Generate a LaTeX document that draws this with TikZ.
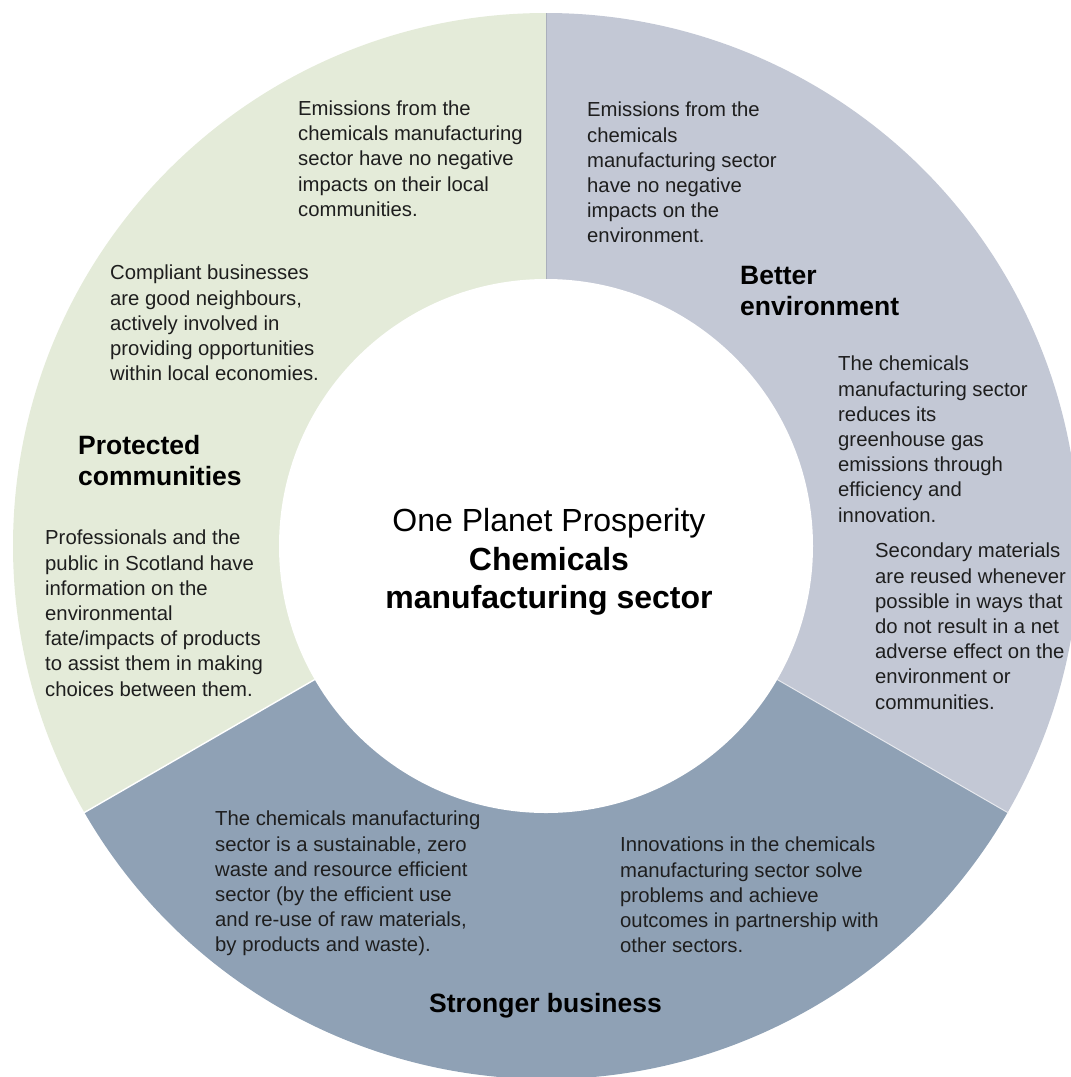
\documentclass[tikz,border=0pt]{standalone}
\usepackage{fontspec}
\setmainfont{Liberation Sans}
\definecolor{ringgreen}{RGB}{228,235,217}
\definecolor{ringgrey}{RGB}{195,200,213}
\definecolor{ringblue}{RGB}{143,161,181}
\definecolor{seamgrey}{RGB}{170,175,188}
\definecolor{txt}{RGB}{30,30,30}
\tikzset{
  body/.style={font=\fontsize{20.3}{25.2}\selectfont, align=left, anchor=north west, inner sep=0pt, text=txt},
  head/.style={font=\fontsize{26.5}{31}\selectfont\bfseries, align=left, anchor=north west, inner sep=0pt, text=black},
  seam/.style={line width=1.4pt, white}
}
\begin{document}
\begin{tikzpicture}[x=1pt,y=1pt]
\useasboundingbox (0,0) rectangle (1071,-1077);
\coordinate (O) at (546,-546);
\begin{scope}
  \clip (0,0) rectangle (1071,-1077);
  % three equal sectors of the ring
  \fill[ringgreen] (O) -- ([shift={(90:533)}]O) arc[start angle=90, end angle=210, radius=533] -- cycle;
  \fill[ringgrey]  (O) -- ([shift={(-30:533)}]O) arc[start angle=-30, end angle=90, radius=533] -- cycle;
  \fill[ringblue]  (O) -- ([shift={(210:533)}]O) arc[start angle=210, end angle=330, radius=533] -- cycle;
  % hole in the middle
  \fill[white] (O) circle[radius=267];
  % seams between sectors
  \draw[seam] ([shift={(210:267)}]O) -- ([shift={(210:534)}]O);
  \draw[seam, white!60!ringgrey, line width=1pt] ([shift={(-30:267)}]O) -- ([shift={(-30:534)}]O);
  \draw[seamgrey, line width=1pt] ([shift={(90:267)}]O) -- ([shift={(90:533)}]O);
\end{scope}

% centre title
\node[font=\fontsize{32}{38.5}\selectfont, align=center, anchor=north, inner sep=0pt, text=black] (title) at (549,-508.5)
  {One Planet Prosperity\\ \textbf{Chemicals}\\ \textbf{manufacturing sector}};

% Protected communities
\node[body] (pc1) at (298,-100.5) {Emissions from the\\chemicals manufacturing\\sector have no negative\\impacts on their local\\communities.};
\node[body] (pc2) at (110,-265) {Compliant businesses\\are good neighbours,\\actively involved in\\providing opportunities\\within local economies.};
\node[head] (pch) at (78,-435) {Protected\\communities};
\node[body] (pc3) at (45,-530) {Professionals and the\\public in Scotland have\\information on the\\environmental\\fate/impacts of products\\to assist them in making\\choices between them.};

% Better environment
\node[body] (be1) at (587,-102) {Emissions from the\\chemicals\\manufacturing sector\\have no negative\\impacts on the\\environment.};
\node[head] (beh) at (740,-266) {Better\\environment};
\node[body] (be2) at (838,-356) {The chemicals\\manufacturing sector\\reduces its\\greenhouse gas\\emissions through\\efficiency and\\innovation.};
\node[body] (be3) at (875,-543) {Secondary materials\\are reused whenever\\possible in ways that\\do not result in a net\\adverse effect on the\\environment or\\communities.};

% Stronger business
\node[body] (sb1) at (215,-811) {The chemicals manufacturing\\sector is a sustainable, zero\\waste and resource efficient\\sector (by the efficient use\\and re-use of raw materials,\\by products and waste).};
\node[body] (sb2) at (620,-837) {Innovations in the chemicals\\manufacturing sector solve\\problems and achieve\\outcomes in partnership with\\other sectors.};
\node[head, anchor=north] (sbh) at (545.5,-993) {Stronger business};
\end{tikzpicture}
\end{document}
